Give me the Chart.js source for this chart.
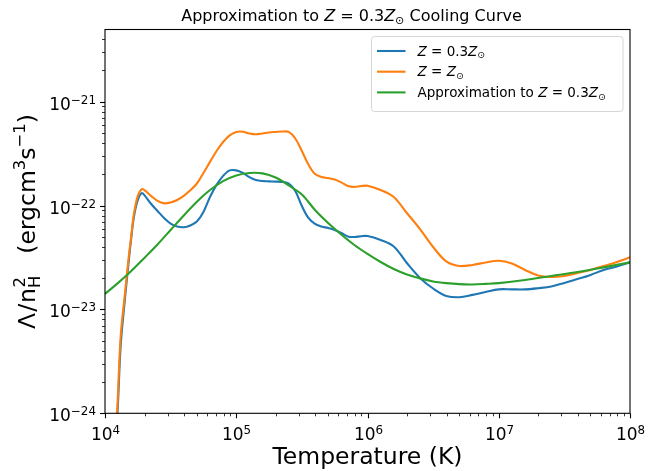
<!DOCTYPE html>
<html>
<head>
<meta charset="utf-8">
<script src="https://cdn.jsdelivr.net/npm/chart.js@4.4.1/dist/chart.umd.min.js"></script>
<style>html,body{margin:0;padding:0;background:#fff;}canvas{display:block;}</style>
</head>
<body>
<canvas id="c" width="660" height="471"></canvas>
<script>
// ---------------- data ----------------
// Temperature grid (K) used for the two tabulated cooling curves
const temperature = [
  12020, 12590, 13180, 14130, 15140, 15850, 16600, 17780, 19050, 19950,
  22390, 25120, 28180, 31620, 35480, 39810, 44670, 50120, 56230, 63100,
  70790, 79430, 89130, 1.0e5, 1.122e5, 1.259e5, 1.413e5, 1.585e5, 1.778e5, 1.995e5,
  2.239e5, 2.512e5, 2.818e5, 3.162e5, 3.548e5, 3.981e5, 4.467e5, 5.012e5, 5.623e5, 6.31e5,
  7.079e5, 7.943e5, 8.913e5, 1.0e6, 1.259e6, 1.585e6, 1.995e6, 2.512e6, 3.162e6, 3.981e6,
  5.012e6, 6.31e6, 7.943e6, 1.0e7, 1.259e7, 1.585e7, 1.995e7, 2.512e7, 3.162e7, 3.981e7,
  5.012e7, 6.31e7, 7.943e7, 1.0e8
];
// Lambda / n_H^2 (erg cm^3 s^-1) for Z = 0.3 Zsun
const lambdaZ03 = [
  3.97e-25, 1.34e-24, 4.55e-24, 1.20e-23, 2.86e-23, 4.88e-23, 7.76e-23, 1.13e-22, 1.32e-22, 1.26e-22,
  1.04e-22, 8.87e-23, 7.59e-23, 6.71e-23, 6.28e-23, 6.18e-23, 6.43e-23, 7.03e-23, 8.67e-23, 1.21e-22,
  1.58e-22, 1.93e-22, 2.18e-22, 2.18e-22, 2.06e-22, 1.88e-22, 1.76e-22, 1.72e-22, 1.71e-22, 1.70e-22,
  1.69e-22, 1.63e-22, 1.38e-22, 9.90e-23, 7.59e-23, 6.65e-23, 6.28e-23, 6.08e-23, 5.82e-23, 5.45e-23,
  5.04e-23, 4.98e-23, 5.06e-23, 5.09e-23, 4.66e-23, 4.04e-23, 2.80e-23, 2.01e-23, 1.59e-23, 1.35e-23,
  1.31e-23, 1.38e-23, 1.47e-23, 1.56e-23, 1.56e-23, 1.56e-23, 1.60e-23, 1.66e-23, 1.80e-23, 1.96e-23,
  2.15e-23, 2.40e-23, 2.59e-23, 2.84e-23
];
// Lambda / n_H^2 for Z = Zsun
const lambdaZsun = [
  4.44e-25, 1.67e-24, 5.67e-24, 1.35e-23, 3.13e-23, 5.09e-23, 8.30e-23, 1.24e-22, 1.44e-22, 1.41e-22,
  1.24e-22, 1.11e-22, 1.05e-22, 1.07e-22, 1.13e-22, 1.24e-22, 1.40e-22, 1.63e-22, 2.06e-22, 2.63e-22,
  3.35e-22, 4.09e-22, 4.73e-22, 5.11e-22, 5.14e-22, 4.94e-22, 4.85e-22, 4.94e-22, 5.05e-22, 5.11e-22,
  5.16e-22, 5.11e-22, 4.42e-22, 3.35e-22, 2.48e-22, 2.01e-22, 1.88e-22, 1.84e-22, 1.78e-22, 1.67e-22,
  1.54e-22, 1.51e-22, 1.54e-22, 1.55e-22, 1.41e-22, 1.21e-22, 8.48e-23, 5.94e-23, 3.99e-23, 2.90e-23,
  2.62e-23, 2.68e-23, 2.83e-23, 2.94e-23, 2.77e-23, 2.40e-23, 2.12e-23, 2.05e-23, 2.10e-23, 2.24e-23,
  2.40e-23, 2.62e-23, 2.86e-23, 3.18e-23
];
// Approximation curve: its own temperature grid and values
const tempApprox = [
  1.0e4, 1.259e4, 1.585e4, 1.995e4, 2.512e4, 3.162e4, 3.981e4, 5.012e4, 6.31e4, 7.943e4,
  1.0e5, 1.259e5, 1.585e5, 1.995e5, 2.512e5, 3.162e5, 3.981e5, 5.012e5, 6.31e5, 7.943e5,
  1.0e6, 1.259e6, 1.585e6, 1.995e6, 2.512e6, 3.162e6, 3.981e6, 5.012e6, 6.31e6, 7.943e6,
  1.0e7, 1.585e7, 2.512e7, 3.981e7, 6.31e7, 1.0e8
];
const lambdaApprox = [
  1.41e-23, 1.80e-23, 2.34e-23, 3.13e-23, 4.22e-23, 5.82e-23, 8.02e-23, 1.09e-22, 1.41e-22, 1.72e-22,
  1.95e-22, 2.06e-22, 2.04e-22, 1.86e-22, 1.56e-22, 1.28e-22, 9.06e-23, 6.79e-23, 5.26e-23, 4.17e-23,
  3.42e-23, 2.86e-23, 2.45e-23, 2.17e-23, 1.99e-23, 1.86e-23, 1.79e-23, 1.75e-23, 1.74e-23, 1.76e-23,
  1.79e-23, 1.92e-23, 2.10e-23, 2.29e-23, 2.54e-23, 2.84e-23
];
const seriesLabels = ['Z = 0.3Z\u2299', 'Z = Z\u2299', 'Approximation to Z = 0.3Z\u2299'];
const seriesColors = ['#1f77b4', '#ff7f0e', '#2ca02c'];
// tick labels as [base, exponent]
const xTickLabels = [['10', '4'], ['10', '5'], ['10', '6'], ['10', '7'], ['10', '8']];                 // 1e4 .. 1e8
const yTickLabels = [['10', '\u221224'], ['10', '\u221223'], ['10', '\u221222'], ['10', '\u221221']];   // 1e-24 .. 1e-21
const xRange = [1e4, 1e8];
const yRange = [1e-24, 4.95e-21];
const titleText = 'Approximation to Z = 0.3Z\u2299 Cooling Curve';
const xLabel = 'Temperature (K)';

// ---------------- helpers ----------------
const FONT = '"DejaVu Sans", sans-serif';
const pts = (xs, ys) => xs.map((x, i) => ({x, y: ys[i]}));
const isMajor = v => Math.abs(Math.log10(v) - Math.round(Math.log10(v))) < 1e-6;
function logTicks(min, max) {
  const out = [];
  for (let e = Math.floor(Math.log10(min)); e <= Math.ceil(Math.log10(max)); e++) {
    for (let k = 1; k <= 9; k++) {
      const v = k * Math.pow(10, e);
      if (v >= min * 0.999999 && v <= max * 1.000001) out.push({value: v});
    }
  }
  return out;
}
// split a label into rich segments: italic Z, subscript sun symbol
function richify(str) {
  const segs = [];
  for (const ch of str) {
    let type = ch === 'Z' ? 'it' : (ch === '\u2299' ? 'sub' : 'n');
    const last = segs[segs.length - 1];
    if (last && last.type === type && type === 'n') last.t += ch;
    else segs.push(type === 'it' ? {t: ch, type, it: true} : type === 'sub' ? {t: ch, type, scale: 0.7, dy: 0.2} : {t: ch, type});
  }
  return segs;
}
function drawRich(ctx, segs, x, y, size, align) {
  let total = 0;
  const items = segs.map(s => {
    const fs = size * (s.scale || 1);
    const font = (s.it ? 'italic ' : '') + fs + 'px ' + FONT;
    ctx.font = font;
    const w = ctx.measureText(s.t).width + (s.pad || 0);
    if (s.adv !== false) total += w;
    return {s, font, w};
  });
  let cx = align === 'center' ? x - total / 2 : (align === 'right' ? x - total : x);
  ctx.textBaseline = 'alphabetic';
  ctx.textAlign = 'left';
  for (const it of items) {
    ctx.font = it.font;
    ctx.fillText(it.s.t, cx + (it.s.lpad || 0), y + (it.s.dy || 0) * size);
    if (it.s.adv !== false) cx += it.w;
  }
}

const decoPlugin = {
  id: 'deco',
  afterDraw(chart) {
    const ctx = chart.ctx, ca = chart.chartArea;
    const xs = chart.scales.x, ys = chart.scales.y;
    ctx.save();
    ctx.strokeStyle = '#000';
    ctx.fillStyle = '#000';
    // tick marks (outward), major longer than minor, and major tick labels
    xs.ticks.forEach(t => {
      const p = Math.round(xs.getPixelForValue(t.value)) + 0.5;
      const maj = isMajor(t.value);
      ctx.lineWidth = maj ? 1.1 : 0.8;
      ctx.beginPath(); ctx.moveTo(p, ca.bottom); ctx.lineTo(p, ca.bottom + (maj ? 5 : 3)); ctx.stroke();
      if (maj) {
        const lab = xTickLabels[Math.round(Math.log10(t.value)) - 4];
        drawRich(ctx, [{t: lab[0]}, {t: lab[1], scale: 0.7, dy: -0.38}], p, 440, 17, 'center');
      }
    });
    ys.ticks.forEach(t => {
      const p = Math.round(ys.getPixelForValue(t.value)) + 0.5;
      const maj = isMajor(t.value);
      ctx.lineWidth = maj ? 1.1 : 0.8;
      ctx.beginPath(); ctx.moveTo(ca.left, p); ctx.lineTo(ca.left - (maj ? 5 : 3), p); ctx.stroke();
      if (maj) {
        const lab = yTickLabels[Math.round(Math.log10(t.value)) + 24];
        drawRich(ctx, [{t: lab[0]}, {t: lab[1], scale: 0.7, dy: -0.36}], 96, p + 7.5, 17, 'right');
      }
    });
    // frame
    ctx.lineWidth = 1.1;
    ctx.strokeRect(ca.left, ca.top, ca.right - ca.left, ca.bottom - ca.top);

    // title
    drawRich(ctx, richify(titleText), 351.5, 20.5, 16, 'center');

    // y label (rotated)
    ctx.save();
    ctx.translate(35, 221.5);
    ctx.rotate(-Math.PI / 2);
    drawRich(ctx, [
      {t: '\u039B', pad: 1},
      {t: '/', pad: 1},
      {t: 'n'},
      {t: '2', scale: 0.7, dy: -0.42, adv: false, lpad: 0.5},
      {t: 'H', scale: 0.7, dy: 0.2, pad: 2},
      {t: '  ', pad: 5},
      {t: '(ergcm'},
      {t: '3', scale: 0.7, dy: -0.42},
      {t: 's'},
      {t: '\u22121', scale: 0.7, dy: -0.42},
      {t: ')'}
    ], 0, 0, 23.5, 'center');
    ctx.restore();

    // legend
    const L = {x0: 371.5, y0: 36.5, x1: 623, y1: 111.5};
    ctx.beginPath();
    ctx.roundRect(L.x0, L.y0, L.x1 - L.x0, L.y1 - L.y0, 3);
    ctx.fillStyle = 'rgba(255,255,255,0.8)';
    ctx.fill();
    ctx.strokeStyle = 'rgba(204,204,204,0.8)';
    ctx.lineWidth = 1;
    ctx.stroke();
    const rows = [51, 71.7, 92.4];
    chart.data.datasets.forEach(ds => {
      const idx = seriesLabels.indexOf(ds.label);
      const ry = rows[idx];
      ctx.strokeStyle = ds.borderColor;
      ctx.lineWidth = 2.1;
      ctx.beginPath(); ctx.moveTo(377, ry); ctx.lineTo(405.5, ry); ctx.stroke();
      ctx.fillStyle = '#000';
      drawRich(ctx, richify(ds.label), 417.5, ry + 4.6, 13.5, 'left');
    });
    ctx.restore();
  }
};

const lineDefaults = {borderWidth: 2.1, pointRadius: 0, tension: 0.35, fill: false, borderJoinStyle: 'round', borderCapStyle: 'butt'};

new Chart(document.getElementById('c'), {
  type: 'line',
  data: {
    datasets: [
      Object.assign({label: seriesLabels[2], data: pts(tempApprox, lambdaApprox), borderColor: seriesColors[2], order: 0}, lineDefaults),
      Object.assign({label: seriesLabels[1], data: pts(temperature, lambdaZsun), borderColor: seriesColors[1], order: 1}, lineDefaults),
      Object.assign({label: seriesLabels[0], data: pts(temperature, lambdaZ03), borderColor: seriesColors[0], order: 2}, lineDefaults)
    ]
  },
  options: {
    responsive: false,
    animation: false,
    devicePixelRatio: 1,
    parsing: false,
    normalized: true,
    layout: {padding: {top: 29.5, right: 30, bottom: 0, left: 0}},
    plugins: {legend: {display: false}, title: {display: false}, tooltip: {enabled: false}},
    scales: {
      x: {
        type: 'logarithmic', position: 'bottom', min: xRange[0], max: xRange[1],
        afterBuildTicks: s => { s.ticks = logTicks(xRange[0], xRange[1]); },
        afterFit: s => { s.height = 57.7; },
        grid: {display: false, drawTicks: false},
        border: {display: false},
        ticks: {display: false, autoSkip: false},
        title: {display: true, text: xLabel, color: '#000', font: {family: FONT, size: 23.5, lineHeight: 1.1}, padding: {top: 0, bottom: 0}}
      },
      y: {
        type: 'logarithmic', position: 'left', min: yRange[0], max: yRange[1],
        afterBuildTicks: s => { s.ticks = logTicks(yRange[0], yRange[1]); },
        afterFit: s => { s.width = 105; },
        grid: {display: false, drawTicks: false},
        border: {display: false},
        ticks: {display: false, autoSkip: false}
      }
    }
  },
  plugins: [decoPlugin]
});
</script>
</body>
</html>
